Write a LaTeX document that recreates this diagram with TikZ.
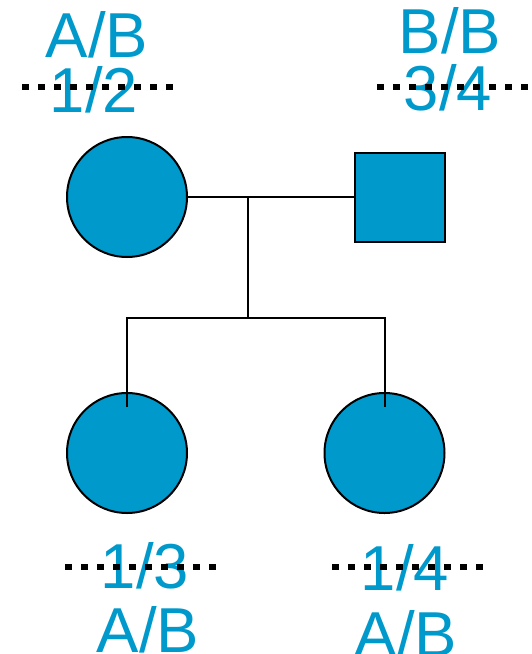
\documentclass[tikz,border=0pt]{standalone}
\usepackage{fontspec}
\setmainfont{Liberation Sans}
\definecolor{pedblue}{HTML}{0099CC}
\begin{document}
\begin{tikzpicture}[x=1pt,y=-1pt,
  person/.style={draw=black,line width=2pt,fill=pedblue,inner sep=0pt},
  female/.style={person,circle,minimum size=120pt},
  male/.style={person,rectangle,minimum width=90pt,minimum height=89pt},
  link/.style={draw=black,line width=2pt},
  geno/.style={text=pedblue,anchor=base,inner sep=0pt,font=\fontsize{63.5}{63.5}\selectfont},
  phase/.style={draw=black,line width=6.5pt,line cap=butt,dash pattern=on 6.5pt off 9.5pt}]
\useasboundingbox (0,0) rectangle (531,654);

% parents and children
\node[female] (mother) at (127,197) {};
\node[male]   (father) at (399.5,197) {};
\node[female] (kid1)   at (127,453) {};
\node[female] (kid2)   at (384.5,453) {};

% marriage and sibship lines
\coordinate (mid) at (248,197);
\coordinate (sib) at (248,318);
\draw[link] (mother.east) -- (father.west);
\draw[link] (mid) -- (sib);
\draw[link] ([yshift=-15pt]kid1.north) |- (sib) -| ([yshift=-15pt]kid2.north);

% genotype and haplotype labels
\node[geno] (gA) at (97,57)  {A/B};
\node[geno] (hA) at (94,112) {1/2};
\node[geno] (gB) at (450,53) {B/B};
\node[geno] (hB) at (448,110) {3/4};
\node[geno] (hC) at (145,588) {1/3};
\node[geno] (gC) at (148,652) {A/B};
\node[geno] (hD) at (405,590) {1/4};
\node[geno] (gD) at (406,656) {A/B};

% phase separators
\coordinate (pA1) at (22,87);  \coordinate (pA2) at (173,87);
\coordinate (pB1) at (377,87); \coordinate (pB2) at (528,87);
\coordinate (pC1) at (65,567); \coordinate (pC2) at (216,567);
\coordinate (pD1) at (332,567); \coordinate (pD2) at (483,567);
\draw[phase] (pA1) -- (pA2);
\draw[phase] (pB1) -- (pB2);
\draw[phase] (pC1) -- (pC2);
\draw[phase] (pD1) -- (pD2);
\end{tikzpicture}
\end{document}
